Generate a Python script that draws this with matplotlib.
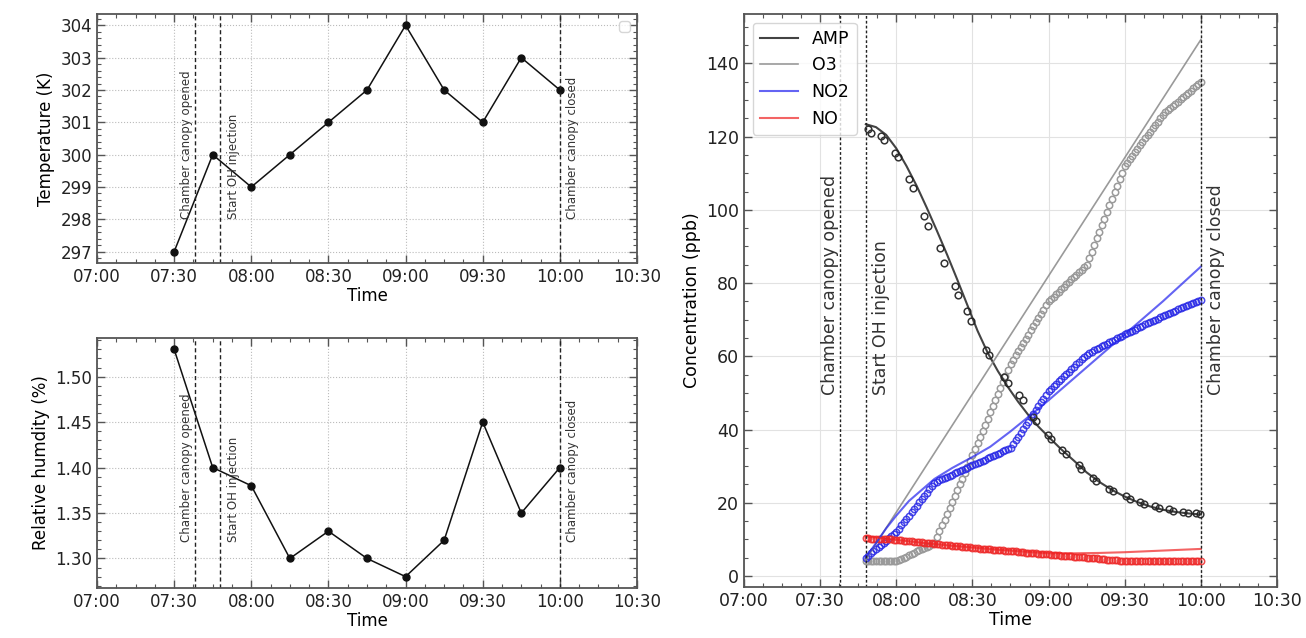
import pandas as pd
import matplotlib
matplotlib.use("Agg")
import matplotlib.pyplot as plt
import matplotlib.dates as mdates
from matplotlib.ticker import AutoMinorLocator, MultipleLocator

day = "2022-06-01 "

# meteorology, every 15 min
met_times = ["07:30", "07:45", "08:00", "08:15", "08:30", "08:45",
             "09:00", "09:15", "09:30", "09:45", "10:00"]
temperature = [297, 300, 299, 300, 301, 302, 304, 302, 301, 303, 302]
humidity = [1.53, 1.40, 1.38, 1.30, 1.33, 1.30, 1.28, 1.32, 1.45, 1.35, 1.40]

events = {"open": "07:38", "oh": "07:48", "close": "10:00"}

# observations, every minute from 07:48 to 10:00
o3_obs = [4.0, 4.0, 4.0, 4.0, 4.0, 4.0, 4.0, 4.0, 4.0, 4.0, 4.0, 4.0, 4.0,
          4.3, 4.7, 5.0, 5.3, 5.7, 6.0, 6.3, 6.7, 7.0, 7.3, 7.7, 8.0, 8.3, 8.7, 9.0,
          10.6, 12.2, 13.8, 15.4, 17.0, 18.6, 20.2, 21.8, 23.4, 25.0, 26.6, 28.2, 29.8, 31.4, 33.0,
          34.7, 36.3, 38.0, 39.7, 41.3, 43.0, 44.7, 46.3, 48.0, 49.7, 51.3, 53.0, 54.7, 56.3, 58.0,
          59.1, 60.3, 61.4, 62.5, 63.7, 64.8, 65.9, 67.1, 68.2, 69.3, 70.5, 71.6, 72.7, 73.9, 75.0,
          75.7, 76.3, 77.0, 77.7, 78.3, 79.0, 79.7, 80.3, 81.0, 81.7, 82.3, 83.0, 83.7, 84.3, 85.0,
          86.8, 88.6, 90.4, 92.2, 94.0, 95.8, 97.6, 99.4, 101.2, 103.0, 104.8, 106.6, 108.4, 110.2, 112.0,
          112.9, 113.9, 114.8, 115.7, 116.7, 117.6, 118.5, 119.5, 120.4, 121.3, 122.3, 123.2, 124.1, 125.1, 126.0,
          126.6, 127.2, 127.8, 128.4, 129.0, 129.6, 130.2, 130.8, 131.4, 132.0, 132.6, 133.2, 133.8, 134.4, 135.0]
no2_obs = [5.0, 5.6, 6.2, 6.8, 7.3, 7.9, 8.5, 9.1, 9.7, 10.3, 10.8, 11.4, 12.0,
           12.9, 13.8, 14.7, 15.6, 16.5, 17.4, 18.3, 19.2, 20.1, 21.0, 21.9, 22.8, 23.7, 24.6, 25.5,
           25.8, 26.1, 26.5, 26.8, 27.1, 27.4, 27.7, 28.0, 28.4, 28.7, 29.0, 29.3, 29.6, 30.0, 30.3,
           30.6, 30.9, 31.2, 31.5, 31.8, 32.2, 32.5, 32.8, 33.1, 33.4, 33.7, 34.1, 34.4, 34.7, 35.0,
           36.0, 37.1, 38.1, 39.1, 40.2, 41.2, 42.2, 43.3, 44.3, 45.3, 46.4, 47.4, 48.4, 49.5, 50.5,
           51.2, 51.8, 52.5, 53.2, 53.8, 54.5, 55.2, 55.8, 56.5, 57.2, 57.8, 58.5, 59.2, 59.8, 60.5,
           60.9, 61.2, 61.6, 62.0, 62.3, 62.7, 63.1, 63.4, 63.8, 64.2, 64.5, 64.9, 65.3, 65.6, 66.0,
           66.3, 66.7, 67.0, 67.3, 67.7, 68.0, 68.3, 68.7, 69.0, 69.3, 69.7, 70.0, 70.3, 70.7, 71.0,
           71.3, 71.6, 71.9, 72.2, 72.5, 72.8, 73.1, 73.4, 73.7, 74.0, 74.3, 74.6, 74.9, 75.2, 75.5]
no_obs = [10.3, 10.3, 10.2, 10.2, 10.2, 10.1, 10.1, 10.1, 10.0, 10.0, 10.0, 9.9, 9.9,
          9.8, 9.8, 9.7, 9.6, 9.5, 9.5, 9.4, 9.3, 9.2, 9.2, 9.1, 9.0, 8.9, 8.9, 8.8,
          8.7, 8.7, 8.6, 8.5, 8.4, 8.4, 8.3, 8.2, 8.1, 8.1, 8.0, 7.9, 7.8, 7.8, 7.7,
          7.6, 7.6, 7.5, 7.5, 7.4, 7.3, 7.3, 7.2, 7.2, 7.1, 7.0, 7.0, 6.9, 6.9, 6.8,
          6.7, 6.7, 6.6, 6.6, 6.5, 6.4, 6.4, 6.3, 6.3, 6.2, 6.1, 6.1, 6.0, 6.0, 5.9,
          5.8, 5.8, 5.7, 5.7, 5.6, 5.5, 5.5, 5.4, 5.4, 5.3, 5.2, 5.2, 5.1, 5.1, 5.0,
          4.9, 4.9, 4.8, 4.8, 4.7, 4.6, 4.6, 4.5, 4.5, 4.4, 4.3, 4.3, 4.2, 4.2, 4.1,
          4.1, 4.1, 4.1, 4.1, 4.1, 4.1, 4.1, 4.0, 4.0, 4.0, 4.0, 4.0, 4.0, 4.0, 4.0,
          4.0, 4.0, 4.0, 4.0, 4.0, 4.0, 4.0, 4.0, 4.0, 4.0, 4.0, 4.0, 4.0, 4.0, 4.0]

# AMP measurements, minutes after 07:00
amp_obs_min = [48.7, 50.1, 53.9, 55.2, 59.5, 60.8, 64.9, 66.4, 70.9, 72.5,
               77.4, 78.7, 83.1, 84.2, 88.0, 89.4, 95.2, 96.5, 102.5, 104.2,
               108.2, 109.8, 113.9, 115.2, 119.6, 120.9, 125.3, 126.9, 131.8, 132.9,
               137.4, 138.7, 143.9, 145.2, 150.4, 152.0, 156.1, 157.7, 161.8, 163.4,
               167.5, 169.1, 173.1, 174.8, 178.0, 179.6]
amp_obs = [122.0, 121.1, 120.2, 119.1, 115.6, 114.4, 108.4, 105.9, 98.2, 95.5,
           89.5, 85.5, 79.3, 76.8, 72.4, 69.6, 61.8, 60.3, 54.4, 52.7,
           49.4, 48.0, 43.5, 42.4, 38.5, 37.5, 34.4, 33.3, 30.3, 29.2,
           26.9, 26.0, 23.9, 23.3, 21.8, 20.9, 20.3, 19.8, 19.1, 18.5,
           18.2, 17.7, 17.6, 17.3, 17.1, 16.9]

# model runs, minutes after 07:00
amp_model_min = [48, 52, 56, 60, 64, 68, 72, 76, 80, 84, 88, 92, 96, 100, 104, 108,
                 112, 116, 120, 125, 130, 135, 140, 145, 150, 155, 160, 165, 170, 175, 180]
amp_model = [123.4, 122.6, 120.5, 116.8, 112.0, 106.6, 100.6, 94.3, 87.8, 81.0, 74.0,
             67.0, 61.0, 56.0, 51.6, 47.6, 44.0, 40.8, 38.0, 34.6, 31.5, 28.3, 25.7,
             23.5, 21.7, 20.2, 19.0, 18.1, 17.5, 17.1, 16.8]
o3_model_min = [48, 90, 135, 180]
o3_model = [4.5, 49.7, 98.1, 146.5]
no2_model_min = [48, 52, 56, 60, 65, 70, 75, 82, 90, 97, 105, 113, 120, 135, 150, 165, 180]
no2_model = [5.0, 9.0, 13.0, 16.5, 20.5, 23.5, 26.5, 29.5, 32.5, 35.3, 39.5, 44.0,
             48.0, 57.0, 66.0, 75.0, 84.5]
no_model_min = [48, 55, 60, 70, 80, 90, 100, 110, 120, 130, 140, 150, 160, 170, 180]
no_model = [10.8, 10.3, 9.9, 9.1, 8.4, 7.8, 7.2, 6.7, 6.2, 6.2, 6.3, 6.5, 6.8, 7.1, 7.4]


def hm(s):
    return pd.to_datetime(day + s)


def mins(m):
    return hm("07:00") + pd.to_timedelta(m, unit="min")


def style(ax, grid_ls, grid_c, size):
    ax.set_xlim(hm("07:00"), hm("10:30"))
    ax.xaxis.set_major_locator(mdates.MinuteLocator(byminute=[0, 30]))
    ax.xaxis.set_major_formatter(mdates.DateFormatter("%H:%M"))
    ax.xaxis.set_minor_locator(AutoMinorLocator(4))
    ax.yaxis.set_minor_locator(AutoMinorLocator())
    ax.tick_params(which="both", direction="in", top=True, right=True,
                   color="#555555", labelcolor="#222222", labelsize=size)
    ax.tick_params(which="major", length=6, width=1)
    ax.tick_params(which="minor", length=3, width=0.8)
    for sp in ax.spines.values():
        sp.set_color("#555555")
        sp.set_linewidth(1.3)
    ax.grid(True, which="major", linestyle=grid_ls, color=grid_c, linewidth=0.8)
    ax.set_axisbelow(True)
    ax.set_xlabel("Time", fontsize=size, labelpad=1)


def mark_events(ax, ytext, size, lw, ls):
    for key in events:
        ax.axvline(hm(events[key]), color="#222222", linestyle=ls, linewidth=lw)
    ax.text(hm(events["open"]) - pd.Timedelta(minutes=0.5), ytext, "Chamber canopy opened",
            rotation=90, ha="right", va="bottom", fontsize=size, color="#333333")
    ax.text(hm(events["oh"]) + pd.Timedelta(minutes=2.5), ytext, "Start OH injection",
            rotation=90, ha="left", va="bottom", fontsize=size, color="#333333")
    ax.text(hm(events["close"]) + pd.Timedelta(minutes=2.5), ytext, "Chamber canopy closed",
            rotation=90, ha="left", va="bottom", fontsize=size, color="#333333")


def main():
    fig = plt.figure(figsize=(13.06, 6.38), dpi=100)
    W, H = 1306, 638
    ax_t = fig.add_axes([97 / W, 1 - 263 / H, 540 / W, 249 / H])
    ax_h = fig.add_axes([97 / W, 1 - 588 / H, 540 / W, 250 / H])
    ax_c = fig.add_axes([744 / W, 1 - 587 / H, 533 / W, 573 / H])

    met_t = [hm(s) for s in met_times]

    # temperature
    ax_t.plot(met_t, temperature, "-o", color="#111111", lw=1.1, ms=5)
    style(ax_t, ":", "#bbbbbb", 12)
    ax_t.set_ylim(296.65, 304.35)
    ax_t.yaxis.set_major_locator(MultipleLocator(1))
    ax_t.yaxis.set_minor_locator(AutoMinorLocator(5))
    ax_t.set_ylabel("Temperature (K)", fontsize=12)
    mark_events(ax_t, 298, 8.5, 1.0, (0, (3, 2)))
    ax_t.legend(handles=[], loc="upper right")

    # humidity
    ax_h.plot(met_t, humidity, "-o", color="#111111", lw=1.1, ms=5)
    style(ax_h, ":", "#bbbbbb", 12)
    ax_h.set_ylim(1.2675, 1.5425)
    ax_h.set_yticks([1.30, 1.35, 1.40, 1.45, 1.50])
    ax_h.set_ylabel("Relative humdity (%)", fontsize=12)
    mark_events(ax_h, 1.318, 8.5, 1.0, (0, (3, 2)))

    # concentrations
    obs_t = pd.date_range(hm("07:48"), hm("10:00"), freq="1min")
    mk = dict(ls="none", marker="o", mfc="none", ms=4.6, mew=1.1)
    ax_c.plot(obs_t, o3_obs, mec="#9a9a9a", **mk)
    ax_c.plot(obs_t, no2_obs, mec="#2a2ae6", alpha=0.85, **mk)
    ax_c.plot(obs_t, no_obs, mec="#ee2a2a", alpha=0.85, **mk)
    ax_c.plot(mins(amp_obs_min), amp_obs, ls="none", marker="o", mfc="none",
              mec="#333333", ms=4.8, mew=1.1)

    ax_c.plot(mins(amp_model_min), amp_model, color="#222222", lw=1.5, alpha=0.85, label="AMP")
    ax_c.plot(mins(o3_model_min), o3_model, color="#888888", lw=1.2, alpha=0.85, label="O3")
    ax_c.plot(mins(no2_model_min), no2_model, color="#2222ee", lw=1.5, alpha=0.7, label="NO2")
    ax_c.plot(mins(no_model_min), no_model, color="#ee2222", lw=1.5, alpha=0.7, label="NO")

    style(ax_c, "-", "#e2e2e2", 12.5)
    ax_c.set_ylim(-3, 153.5)
    ax_c.set_ylabel("Concentration (ppb)", fontsize=12.5)
    mark_events(ax_c, 49.5, 12.5, 1.0, (0, (2, 1.5)))
    ax_c.legend(loc="upper left", fontsize=12.5, handlelength=2.2)

    fig.savefig("out.png", dpi=100)


if __name__ == "__main__":
    main()
